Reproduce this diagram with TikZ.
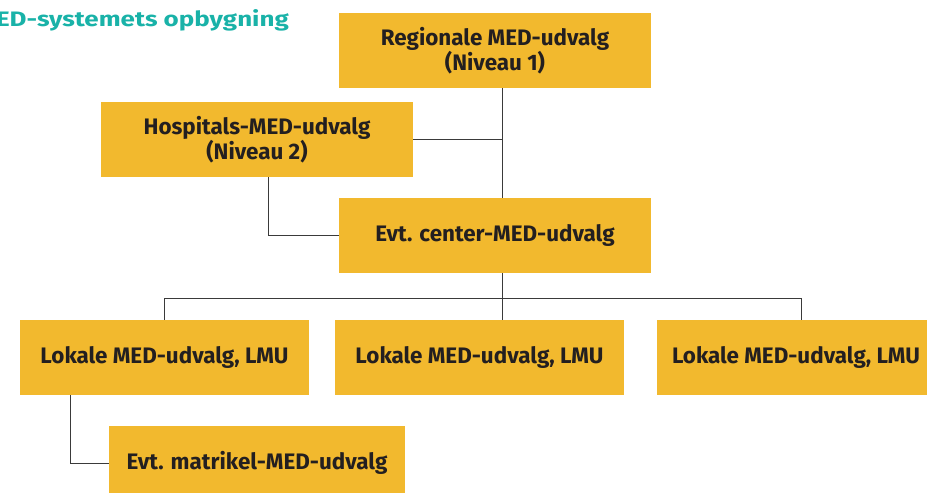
\documentclass[tikz,border=0pt]{standalone}
\usepackage{fontspec}
\setmainfont{Fira Sans}
\definecolor{boxfill}{HTML}{F2B92E}
\definecolor{titleteal}{HTML}{19B2A8}
\definecolor{txt}{HTML}{231F20}
\definecolor{linec}{HTML}{3A3A3A}
\begin{document}
\begin{tikzpicture}[x=1bp,y=-1bp,
  orgbox/.style={fill=boxfill, draw=none, inner sep=0pt, minimum height=75bp,
    align=center, text=txt, font=\fontsize{22.5}{21}\selectfont\bfseries},
  conn/.style={draw=linec, line width=0.9pt}]
\useasboundingbox (0,0) rectangle (927,493);
\begin{scope}
\clip (0,0) rectangle (927,493);
\node[anchor=base east, text=titleteal, inner sep=0pt, font=\fontsize{21}{24}\selectfont\bfseries] (title) at (289,27) {\scalebox{1.24}[1]{MED-systemets opbygning}};
\node[orgbox, minimum width=312bp] (reg) at (495,50.5) {Regionale MED-udvalg\\(Niveau 1)};
\node[orgbox, minimum width=312bp] (hosp) at (257,139.5) {Hospitals-MED-udvalg\\(Niveau 2)};
\node[orgbox, minimum width=312bp] (cen) at (495,235.5) {Evt. center-MED-udvalg};
\node[orgbox, minimum width=289bp] (l1) at (164.5,357.5) {Lokale MED-udvalg, LMU};
\node[orgbox, minimum width=289bp] (l2) at (479.5,357.5) {Lokale MED-udvalg, LMU};
\node[orgbox, minimum width=289bp] (l3) at (801.5,357.5) {\makebox[289bp][l]{\hspace*{15bp}Lokale MED-udvalg, LMU}};
\node[orgbox, minimum width=296bp, minimum height=74bp] (matr) at (257,463) {Evt. matrikel-MED-udvalg};
\coordinate (tr) at (502,0);
\coordinate (hx) at (268,0);
\coordinate (mx) at (70,0);
\coordinate (bus) at (0,298);
\draw[conn] (reg.south -| tr) -- (cen.north -| tr);
\draw[conn] (hosp.east) -- (hosp.east -| tr);
\draw[conn] (hosp.south -| hx) |- (cen.west);
\draw[conn] (cen.south -| tr) -- (l2.north -| tr);
\draw[conn] (l1.north) -- (l1.north |- bus) -- (l3.north |- bus) -- (l3.north);
\draw[conn] (l1.south -| mx) |- (matr.west);
\end{scope}
\end{tikzpicture}
\end{document}
